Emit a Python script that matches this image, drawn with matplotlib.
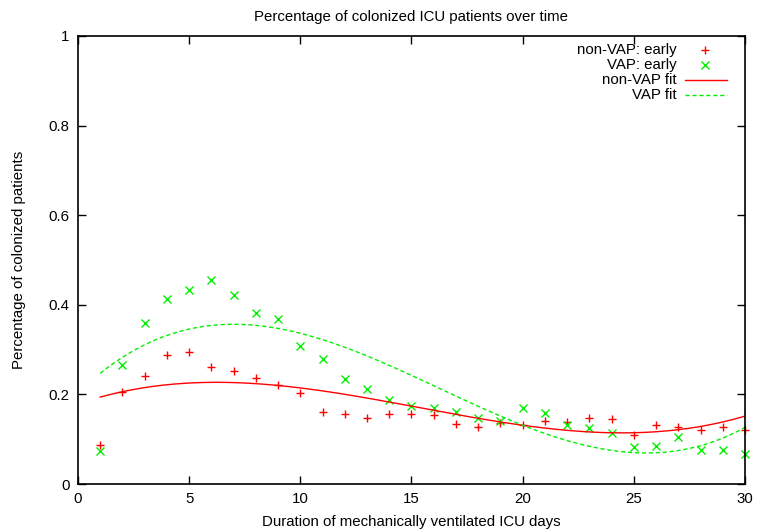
import numpy as np
import matplotlib
matplotlib.use("Agg")
import matplotlib.pyplot as plt

days = list(range(1, 31))
nonvap = [0.086, 0.205, 0.240, 0.287, 0.294, 0.262, 0.253, 0.237, 0.220, 0.203,
          0.160, 0.157, 0.148, 0.157, 0.157, 0.153, 0.133, 0.128, 0.137, 0.132,
          0.140, 0.138, 0.147, 0.146, 0.110, 0.132, 0.128, 0.120, 0.128, 0.120]
vap = [0.073, 0.266, 0.360, 0.414, 0.432, 0.456, 0.422, 0.381, 0.369, 0.309,
       0.280, 0.234, 0.213, 0.188, 0.175, 0.170, 0.160, 0.147, 0.141, 0.170,
       0.159, 0.132, 0.124, 0.114, 0.083, 0.085, 0.105, 0.077, 0.077, 0.068]

# readings of the fitted curves (cubic fits) at a few days
fit_x = [1, 5, 7, 10, 15, 20, 25, 30]
nonvap_fit_read = [0.194, 0.225, 0.228, 0.212, 0.175, 0.132, 0.113, 0.152]
vap_fit_read = [0.247, 0.348, 0.357, 0.329, 0.249, 0.132, 0.066, 0.128]

xticks = [0, 5, 10, 15, 20, 25, 30]
yticks = [0, 0.2, 0.4, 0.6, 0.8, 1]
ytick_labels = ["0", "0.2", "0.4", "0.6", "0.8", "1"]

plt.rcParams['font.family'] = ['Liberation Sans', 'DejaVu Sans']
FS = 10.8

fig = plt.figure(figsize=(7.57, 5.31), dpi=100)
ax = fig.add_axes([78/757, 47/531, (745-78)/757, (484-36)/531])

red = '#ff0000'
green = '#00f000'

p1 = np.polyfit(fit_x, nonvap_fit_read, 3)
p2 = np.polyfit(fit_x, vap_fit_read, 3)
xs = np.linspace(1, 30, 300)

ax.plot(days, nonvap, '+', color=red, ms=5.5, mew=1.0, clip_on=False)
ax.plot(days, vap, 'x', color=green, ms=5.5, mew=1.0, clip_on=False)
ax.plot(xs, np.polyval(p1, xs), '-', color=red, lw=1.0)
ax.plot(xs, np.polyval(p2, xs), '--', color=green, lw=1.0, dashes=(3, 2))

ax.set_xlim(0, 30)
ax.set_ylim(0, 1)
ax.set_xticks(xticks)
ax.set_yticks(yticks)
ax.set_yticklabels(ytick_labels)
ax.tick_params(direction='in', length=6, width=1, top=True, right=True, labelsize=FS, pad=6)
for s in ax.spines.values():
    s.set_linewidth(1.2)

ax.set_title("Percentage of colonized ICU patients over time", fontsize=FS, pad=11)
ax.set_xlabel("Duration of mechanically ventilated ICU days", fontsize=FS, labelpad=6)
ax.set_ylabel("Percentage of colonized patients", fontsize=FS, labelpad=16)

# legend, gnuplot style: right-aligned text, sample on right
tr = ax.transAxes
def ax_x(px):
    return (px - 78) / (745 - 78)
def ax_y(py):
    return (484 - py) / (484 - 36)
rows = [50, 65, 80, 95]
labels = ["non-VAP: early", "VAP: early", "non-VAP fit", "VAP fit"]
for r, lab in zip(rows, labels):
    ax.text(ax_x(677), ax_y(r), lab, transform=tr, ha='right', va='center', fontsize=FS)
ax.plot([ax_x(705)], [ax_y(rows[0])], '+', color=red, ms=5.5, mew=1.0, transform=tr)
ax.plot([ax_x(705)], [ax_y(rows[1])], 'x', color=green, ms=5.5, mew=1.0, transform=tr)
ax.plot([ax_x(685), ax_x(727)], [ax_y(rows[2])]*2, '-', color=red, lw=1.0, transform=tr)
ax.plot([ax_x(685), ax_x(727)], [ax_y(rows[3])]*2, '--', color=green, lw=1.0, dashes=(3, 2), transform=tr)

fig.savefig("out.png", dpi=100)
